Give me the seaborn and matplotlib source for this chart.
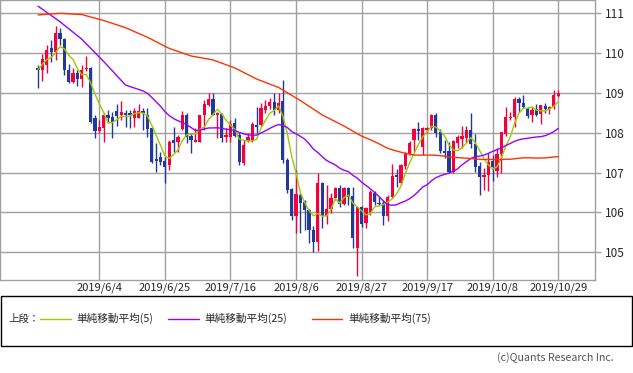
import numpy as np
import pandas as pd
import matplotlib
matplotlib.use("Agg")
import matplotlib.pyplot as plt
import seaborn as sns
from matplotlib.lines import Line2D
from matplotlib.patches import Rectangle

# ---------------- data ----------------
opens = [109.60, 109.58, 109.70, 110.12, 110.04, 110.50, 110.35, 109.59, 109.28, 109.49,
         109.36, 109.60, 109.62, 108.36, 108.05, 108.13, 108.45, 108.41, 108.55, 108.45,
         108.49, 108.49, 108.36, 108.38, 108.55, 108.45, 108.11, 107.35, 107.40, 107.29,
         107.18, 107.82, 107.78, 108.09, 108.45, 107.92, 107.78, 107.78, 108.45, 108.70,
         108.85, 108.45, 108.47, 107.89, 107.89, 108.24, 107.95, 107.25, 107.80, 107.80,
         108.20, 108.20, 108.57, 108.67, 108.78, 108.57, 108.81, 107.33, 106.58, 105.91,
         106.44, 106.27, 106.06, 105.56, 105.27, 106.75, 105.90, 106.10, 106.36, 106.61,
         106.21, 106.61, 106.41, 105.10, 106.15, 105.73, 106.00, 106.50, 106.25, 106.23,
         105.90, 106.40, 106.95, 106.74, 107.17, 107.47, 107.82, 108.09, 107.64, 108.07,
         108.12, 108.45, 108.02, 107.54, 107.54, 107.02, 107.75, 107.85, 107.87, 108.08,
         107.72, 107.17, 106.90, 106.94, 107.30, 107.05, 107.47, 107.96, 108.36, 108.41,
         108.86, 108.74, 108.59, 108.45, 108.59, 108.47, 108.67, 108.61, 108.64, 108.93]
closes = [109.59, 109.85, 110.08, 110.04, 110.50, 110.35, 109.58, 109.28, 109.49, 109.35,
          109.59, 109.62, 108.26, 108.05, 108.15, 108.45, 108.36, 108.28, 108.42, 108.53,
          108.45, 108.45, 108.55, 108.55, 108.49, 108.09, 107.28, 107.30, 107.28, 107.15,
          107.78, 107.75, 107.90, 108.45, 107.90, 107.82, 107.82, 108.45, 108.72, 108.85,
          108.45, 108.49, 107.86, 107.95, 108.22, 107.93, 107.26, 107.69, 107.89, 108.22,
          108.15, 108.63, 108.67, 108.78, 108.57, 108.74, 107.32, 106.56, 105.91, 106.46,
          106.23, 106.06, 105.56, 105.27, 106.75, 105.90, 106.10, 106.36, 106.61, 106.21,
          106.61, 106.40, 105.37, 106.13, 105.70, 106.11, 106.52, 106.27, 106.21, 105.90,
          106.40, 106.92, 106.90, 107.18, 107.47, 107.75, 108.10, 108.04, 108.12, 108.12,
          108.45, 108.00, 107.54, 107.50, 107.02, 107.79, 107.90, 107.93, 108.08, 107.72,
          107.15, 106.90, 106.94, 107.28, 107.15, 107.47, 108.02, 108.41, 108.41, 108.86,
          108.76, 108.64, 108.42, 108.57, 108.45, 108.69, 108.61, 108.65, 108.96, 109.00]
highs = [109.70, 109.98, 110.20, 110.33, 110.68, 110.62, 110.37, 109.74, 109.62, 109.58,
         109.70, 109.93, 109.66, 108.45, 108.32, 108.49, 108.57, 108.53, 108.72, 108.80,
         108.57, 108.57, 108.62, 108.72, 108.62, 108.62, 108.15, 107.74, 107.53, 107.40,
         107.82, 108.15, 107.95, 108.55, 108.49, 107.99, 108.11, 108.45, 108.82, 108.99,
         108.99, 108.53, 108.49, 108.11, 108.32, 108.36, 107.99, 107.82, 108.00, 108.28,
         108.66, 108.74, 108.82, 108.87, 108.99, 108.99, 109.33, 107.36, 106.61, 107.07,
         106.48, 106.31, 106.10, 105.66, 106.98, 106.77, 106.69, 106.48, 106.65, 106.69,
         106.65, 106.65, 106.63, 106.15, 106.16, 106.13, 106.56, 106.55, 106.40, 106.31,
         106.44, 107.22, 107.08, 107.22, 107.51, 107.79, 108.11, 108.28, 108.15, 108.15,
         108.47, 108.49, 108.10, 107.83, 107.77, 107.82, 107.94, 108.18, 108.18, 108.49,
         107.96, 107.28, 107.11, 107.49, 107.44, 107.61, 108.03, 108.64, 108.53, 108.89,
         108.89, 108.96, 108.66, 108.66, 108.72, 108.70, 108.74, 108.67, 109.07, 109.08]
lows = [109.13, 109.31, 109.51, 109.79, 109.83, 110.20, 109.45, 109.26, 109.26, 109.18,
        109.14, 109.54, 108.24, 107.86, 108.00, 107.78, 108.24, 107.86, 108.17, 108.32,
        108.15, 108.11, 108.14, 108.36, 108.07, 107.90, 107.23, 107.02, 107.19, 106.75,
        107.07, 107.53, 107.53, 108.07, 107.74, 107.50, 107.78, 107.78, 108.07, 108.67,
        108.45, 107.86, 107.78, 107.78, 107.78, 107.89, 107.19, 107.19, 107.78, 107.78,
        107.99, 108.17, 108.49, 108.61, 108.45, 108.49, 107.25, 106.48, 105.81, 105.48,
        105.48, 105.56, 105.23, 105.02, 105.04, 105.61, 105.71, 105.98, 106.31, 106.15,
        106.19, 106.19, 105.10, 104.41, 105.64, 105.60, 105.94, 106.19, 106.19, 105.69,
        105.79, 106.36, 106.65, 106.68, 107.10, 107.45, 107.53, 107.82, 107.44, 107.99,
        108.07, 107.90, 107.50, 107.36, 106.98, 106.98, 107.63, 107.63, 107.74, 107.61,
        107.02, 106.44, 106.56, 106.55, 106.78, 106.90, 106.98, 107.92, 108.32, 108.14,
        108.53, 108.62, 108.36, 108.28, 108.42, 108.22, 108.49, 108.47, 108.61, 108.91]

# Early part of the 25/75-day averages (their history lies before the window),
# read off the chart every 5 sessions; later values are the rolling means of closes.
ma25_early_idx = [0, 5, 10, 15, 20]
ma25_early = [111.18, 110.79, 110.35, 109.79, 109.20]
ma75_early_idx = [0, 5, 10, 15, 20, 25, 30, 35, 40, 45, 50, 55, 60, 65, 70]
ma75_early = [110.96, 111.00, 110.97, 110.82, 110.64, 110.40, 110.12, 109.93, 109.83,
              109.63, 109.35, 109.14, 108.81, 108.45, 108.17]

start_date = "2019-05-15"
end_date = "2019-10-29"
tick_labels = ["2019/6/4", "2019/6/25", "2019/7/16", "2019/8/6",
               "2019/8/27", "2019/9/17", "2019/10/8", "2019/10/29"]
y_ticks = [105, 106, 107, 108, 109, 110, 111]
legend_title = "上段："
legend_labels = ["単純移動平均(5)", "単純移動平均(25)", "単純移動平均(75)"]
copyright_text = "(c)Quants Research Inc."

# ---------------- style ----------------
sns.set_style("white")
plt.rcParams['font.family'] = ['Noto Sans CJK JP', 'DejaVu Sans']

UP = "#f5003c"
DOWN = "#22389a"
C5 = "#99cc00"
C25 = "#9900ff"
C75 = "#ff3300"
GRID = "#a0a0a0"

W, H = 633, 373
fig = plt.figure(figsize=(W / 100, H / 100), dpi=100)
fig.patch.set_facecolor("white")
ax = fig.add_axes([0, 1 - 280 / H, 595.3 / W, 280 / H])

dates = pd.bdate_range(start_date, end_date)
df = pd.DataFrame({"date": dates, "open": opens, "high": highs,
                   "low": lows, "close": closes})
df["i"] = np.arange(len(df))
df["ma5"] = df["close"].rolling(5, min_periods=1).mean()
df["ma25"] = df["close"].rolling(25).mean()
df["ma75"] = df["close"].rolling(75).mean()

ma25_x = ma25_early_idx + df["i"][df["ma25"].notna()].tolist()
ma25_y = ma25_early + df["ma25"].dropna().tolist()
ma75_x = ma75_early_idx + df["i"][df["ma75"].notna()].tolist()
ma75_y = ma75_early + df["ma75"].dropna().tolist()

# candles
up = df["close"] >= df["open"]
colors = np.where(up, UP, DOWN)
ax.vlines(df["i"], df["low"], df["high"], colors=colors, lw=1.0, zorder=2)
body_bottom = np.minimum(df["open"], df["close"])
body_h = np.maximum((df["close"] - df["open"]).abs(), 0.03)
ax.bar(df["i"], body_h, bottom=body_bottom, width=0.74, color=colors,
       linewidth=0, zorder=3)

# moving averages
sns.lineplot(x=df["i"], y=df["ma5"], ax=ax, color=C5, lw=1.0, zorder=4)
sns.lineplot(x=ma25_x, y=ma25_y, ax=ax, color=C25, lw=1.0, zorder=4)
sns.lineplot(x=ma75_x, y=ma75_y, ax=ax, color=C75, lw=1.0, zorder=4)

# axes
ax.set_xlim(-8.72, 127.48)
ax.set_ylim(104.305, 111.335)
tick_pos = [int(df.index[df["date"] == pd.to_datetime(t.replace("/", "-"))][0])
            for t in tick_labels]
ax.set_xticks(tick_pos)
ax.set_xticklabels(tick_labels, fontsize=8)
ax.set_yticks(y_ticks)
ax.set_yticklabels([str(v) for v in y_ticks], fontsize=8.5)
ax.yaxis.tick_right()
ax.tick_params(axis="y", length=4, width=1, color=GRID, pad=3, right=True, left=False)
ax.tick_params(axis="x", length=0, pad=1.5)
ax.grid(True, color=GRID, lw=1.0)
ax.set_axisbelow(True)
for s in ax.spines.values():
    s.set_color(GRID)
    s.set_linewidth(1.0)
ax.set_xlabel("")
ax.set_ylabel("")


def fx(x):
    return x / W


def fy(y):
    return 1 - y / H


# legend box
fig.add_artist(Rectangle((fx(0.5), fy(346)), fx(631.5), 50 / H, transform=fig.transFigure,
                         fill=False, ec="black", lw=1.0))
ly = 318.5
fig.text(fx(8), fy(ly), legend_title, fontsize=7.5, va="center", ha="left")
for (x0, x1, tx), c, lab in zip([(40, 71, 76), (168, 199, 204), (312, 342, 348)],
                                [C5, C25, C75], legend_labels):
    fig.add_artist(Line2D([fx(x0), fx(x1)], [fy(ly), fy(ly)], color=c, lw=1.0,
                          transform=fig.transFigure))
    fig.text(fx(tx), fy(ly), lab, fontsize=7.7, va="center", ha="left")

fig.text(fx(614), fy(358), copyright_text, fontsize=7.7, va="center", ha="right",
         color="#555555")

fig.savefig("out.png", dpi=100)
